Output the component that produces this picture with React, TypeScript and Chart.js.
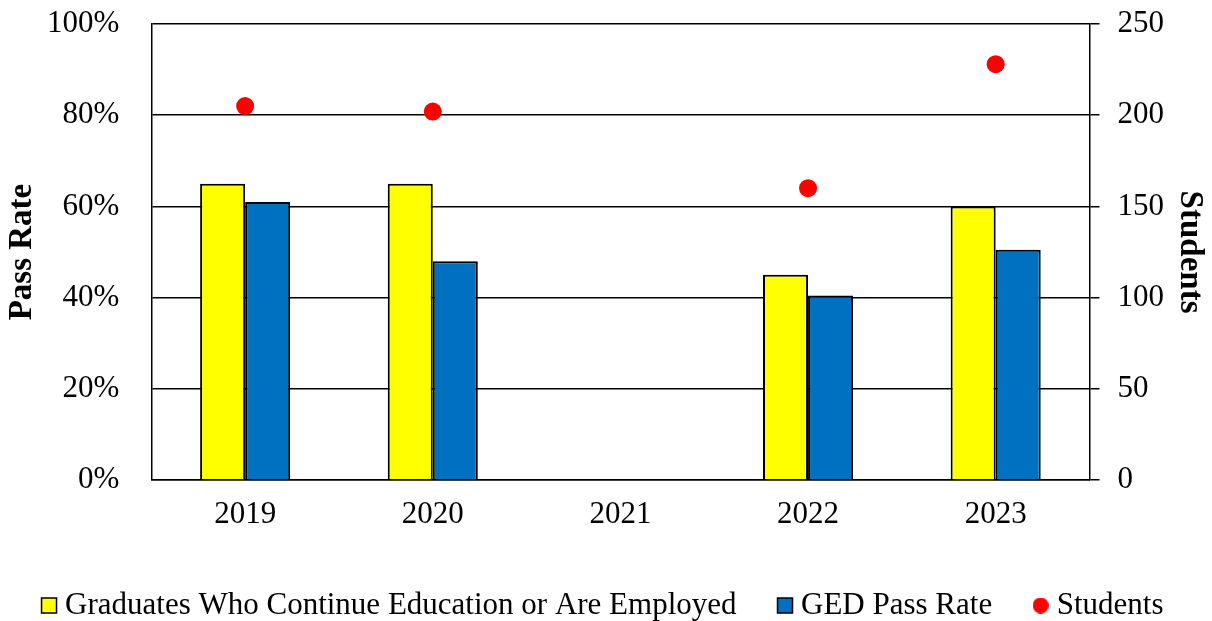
import React, { useEffect, useRef } from "react";
import { Chart, registerables } from "chart.js";

Chart.register(...registerables);

const categories = ["2019", "2020", "2021", "2022", "2023"];
const graduatesRate = [65, 65, null, 45, 60];
const gedPassRate = [61, 48, null, 40.5, 50.5];
const students = [205, 202, null, 160, 228];

const FONT = "'Liberation Serif', 'Times New Roman', serif";

function circleImage(d: number, color: string) {
  const c = document.createElement("canvas");
  c.width = d;
  c.height = d;
  const ctx = c.getContext("2d")!;
  ctx.fillStyle = color;
  ctx.beginPath();
  ctx.arc(d / 2, d / 2, d / 2, 0, Math.PI * 2);
  ctx.fill();
  return c;
}

export default function App() {
  const ref = useRef<HTMLCanvasElement | null>(null);
  useEffect(() => {
    document.body.style.margin = "0";
    const dot = circleImage(16, "#FF0000");
    const chart = new Chart(ref.current!, {
      type: "bar",
      data: {
        labels: categories,
        datasets: [
          {
            label: "Graduates Who Continue Education or Are Employed",
            data: graduatesRate as any,
            backgroundColor: "#FFFF00",
            borderColor: "#000000",
            borderWidth: 2,
            yAxisID: "y",
            order: 1,
            categoryPercentage: 0.48,
            barPercentage: 1,
            pointStyle: "rect",
          } as any,
          {
            label: "GED Pass Rate",
            data: gedPassRate as any,
            backgroundColor: "#0070C0",
            borderColor: "#000000",
            borderWidth: 2,
            yAxisID: "y",
            order: 1,
            categoryPercentage: 0.48,
            barPercentage: 1,
            pointStyle: "rect",
          } as any,
          {
            type: "line",
            label: "Students",
            data: students as any,
            showLine: false,
            backgroundColor: "#FF0000",
            borderColor: "#FF0000",
            pointRadius: 9,
            pointBorderWidth: 0,
            yAxisID: "y1",
            order: 0,
          } as any,
        ],
      },
      options: {
        animation: false,
        responsive: true,
        maintainAspectRatio: false,
        layout: { padding: { left: 0, right: 0, top: 24, bottom: -10 } },
        plugins: {
          tooltip: { enabled: false },
          legend: {
            position: "bottom",
            labels: {
              font: { family: FONT, size: 31 },
              color: "#000",
              usePointStyle: true,
              boxWidth: 1,
              boxHeight: 15,
              padding: 48,
              sort: (a: any, b: any) => a.datasetIndex - b.datasetIndex,
              generateLabels: (ch: any) => {
                const items = Chart.defaults.plugins.legend.labels.generateLabels(ch);
                items.forEach((it: any) => {
                  if (it.datasetIndex === 2) {
                    it.pointStyle = dot;
                  } else {
                    it.pointStyle = "rect";
                    it.lineWidth = 1.5;
                    it.strokeStyle = "#000";
                  }
                });
                return items;
              },
            },
          },
        },
        scales: {
          x: {
            grid: { display: false },
            border: { display: true, color: "#000", width: 1.5 },
            ticks: { font: { family: FONT, size: 31, lineHeight: 0.9 }, color: "#000", padding: 13 },
          },
          y: {
            position: "left",
            min: 0,
            max: 100,
            ticks: {
              stepSize: 20,
              font: { family: FONT, size: 31, lineHeight: 0.3 },
              color: "#000",
              padding: 2,
              callback: (v: any) => v + "%",
            },
            grid: { color: "#000", lineWidth: 1.5, drawTicks: true, tickLength: 30, tickColor: "rgba(0,0,0,0)" },
            border: { display: true, color: "#000", width: 1.5 },
            title: {
              display: true,
              text: "Pass Rate",
              font: { family: FONT, size: 33, weight: "bold", lineHeight: 1 },
              color: "#000",
              padding: { top: 6, bottom: 6 },
            },
          },
          y1: {
            position: "right",
            min: 0,
            max: 250,
            ticks: {
              stepSize: 50,
              font: { family: FONT, size: 31, lineHeight: 0.3 },
              color: "#000",
              padding: 18,
            },
            grid: { drawOnChartArea: false, color: "#000", lineWidth: 1.5, tickLength: 10 },
            border: { display: true, color: "#000", width: 1.5 },
            title: {
              display: true,
              text: "Students",
              font: { family: FONT, size: 33, weight: "bold", lineHeight: 1 },
              color: "#000",
              padding: { top: 6, bottom: -9 },
            },
          },
        },
      },
    });
    return () => chart.destroy();
  }, []);
  return (
    <div style={{ width: 1212, height: 621, position: "relative" }}>
      <canvas ref={ref} />
    </div>
  );
}
